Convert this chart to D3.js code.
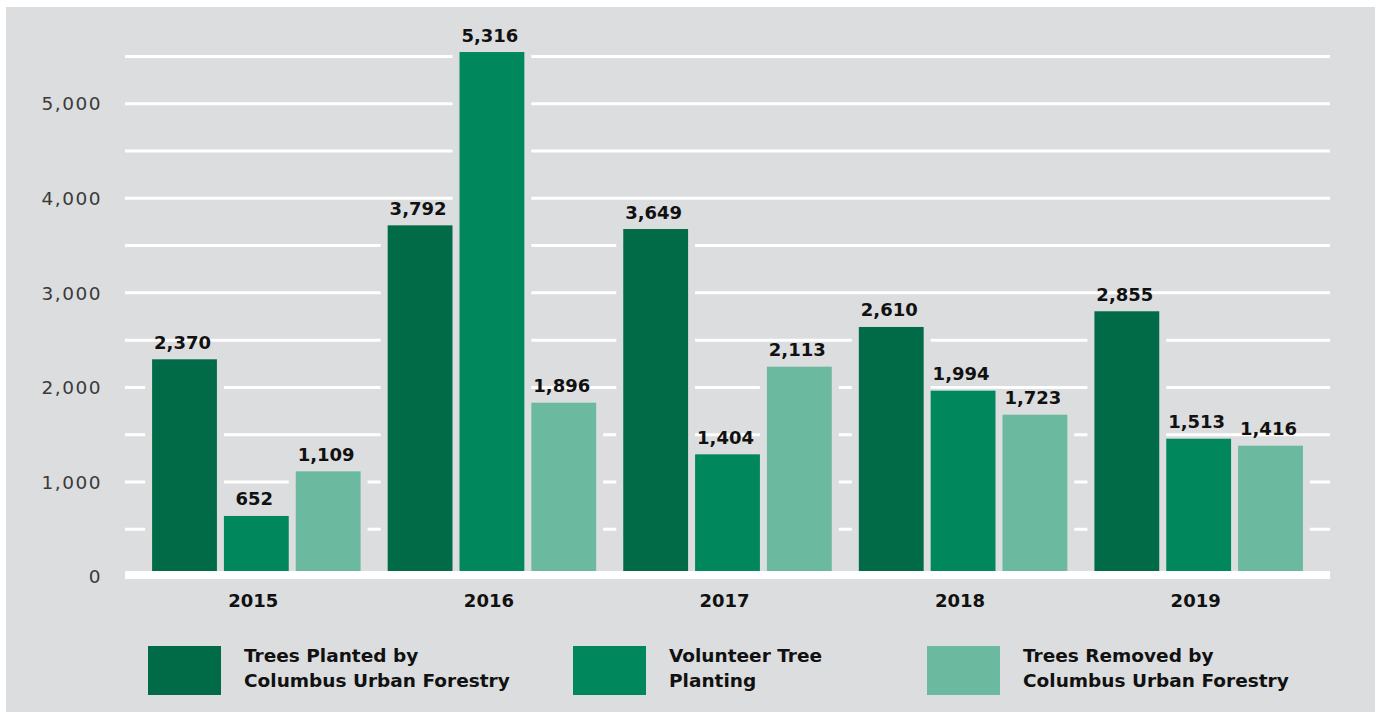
<!DOCTYPE html>
<html>
<head>
<meta charset="utf-8">
<script src="https://cdn.jsdelivr.net/npm/d3@7"></script>
<style>
  html, body { margin: 0; padding: 0; background: #ffffff; }
  svg { display: block; }
</style>
</head>
<body>
<svg id="chart" width="1378" height="712"></svg>
<script>
// ---- data ----
const years = ["2015", "2016", "2017", "2018", "2019"];
const seriesKeys = ["planted", "volunteer", "removed"];
const legendLines = [
  ["Trees Planted by", "Columbus Urban Forestry"],
  ["Volunteer Tree", "Planting"],
  ["Trees Removed by", "Columbus Urban Forestry"]
];
// values printed above the bars
const plantedLabels   = [2370, 3792, 3649, 2610, 2855];
const volunteerLabels = [652, 5316, 1404, 1994, 1513];
const removedLabels   = [1109, 1896, 2113, 1723, 1416];
// bar heights as drawn in the picture (measured against the axis)
const plantedBars   = [2292, 3709, 3670, 2634, 2800];
const volunteerBars = [635, 5542, 1287, 1960, 1452];
const removedBars   = [1107, 1833, 2214, 1706, 1378];
// axis
const yLabelTicks = [0, 1000, 2000, 3000, 4000, 5000];
const yGridTicks  = [500, 1000, 1500, 2000, 2500, 3000, 3500, 4000, 4500, 5000, 5500];
const yMax = 5500;

const colors = ["#016b48", "#00885c", "#6bb99f"];
const bg = "#dcdddf";

// ---- build table ----
const barsBySeries = [plantedBars, volunteerBars, removedBars];
const labelsBySeries = [plantedLabels, volunteerLabels, removedLabels];
const table = years.map((yr, i) => ({
  year: yr,
  items: seriesKeys.map((k, j) => ({ key: k, idx: j, bar: barsBySeries[j][i], label: labelsBySeries[j][i] }))
}));

// ---- layout ----
const svg = d3.select("#chart");
const plotLeft = 125, plotRight = 1330;
const yZero = 576, yTop = 56;

svg.append("rect").attr("x", 6).attr("y", 7).attr("width", 1369).attr("height", 712)
  .attr("fill", bg);

const x0 = d3.scaleBand().domain(years).range([plotLeft, plotRight])
  .paddingInner(0.115).paddingOuter(0.115);
const x1 = d3.scaleBand().domain(seriesKeys).range([0, x0.bandwidth()])
  .paddingInner(0.0975).paddingOuter(0);
const y = d3.scaleLinear().domain([0, yMax]).range([yZero, yTop]);

// gridlines
const grid = svg.append("g").attr("transform", `translate(${plotLeft},0)`)
  .call(d3.axisRight(y).tickValues(yGridTicks).tickSize(plotRight - plotLeft).tickFormat(""));
grid.select(".domain").remove();
grid.selectAll(".tick line").attr("stroke", "#ffffff").attr("stroke-width", 3);

// y labels
const yAxis = svg.append("g").attr("transform", `translate(${plotLeft},0)`)
  .call(d3.axisLeft(y).tickValues(yLabelTicks).tickSize(0).tickPadding(23)
    .tickFormat(d3.format(",")));
yAxis.select(".domain").remove();
yAxis.selectAll(".tick text")
  .attr("fill", "#3a3a3a")
  .style("font-family", "'DejaVu Sans', sans-serif")
  .style("font-size", "18.5px")
  .style("letter-spacing", "1.5px")
  .attr("dy", "0.36em");

// groups
const groups = svg.append("g").selectAll("g.grp").data(table).join("g")
  .attr("class", "grp")
  .attr("transform", d => `translate(${x0(d.year)},0)`);

// halos (interrupt gridlines around the bars)
groups.selectAll("rect.halo").data(d => d.items).join("rect")
  .attr("class", "halo")
  .attr("x", d => x1(d.key) - 7)
  .attr("width", x1.bandwidth() + 14)
  .attr("y", d => y(d.bar) - 2)
  .attr("height", d => yZero - y(d.bar) + 2)
  .attr("fill", bg);

// bars
groups.selectAll("rect.bar").data(d => d.items).join("rect")
  .attr("class", "bar")
  .attr("x", d => x1(d.key))
  .attr("width", x1.bandwidth())
  .attr("y", d => y(d.bar))
  .attr("height", d => yZero - y(d.bar))
  .attr("fill", d => colors[d.idx]);

// value labels
groups.selectAll("text.val").data(d => d.items).join("text")
  .attr("class", "val")
  .attr("x", d => x1(d.key) + x1.bandwidth() / 2 - 2)
  .attr("y", d => y(d.bar) - 10.5)
  .attr("text-anchor", "middle")
  .attr("fill", "#111111")
  .style("font-family", "'DejaVu Sans', sans-serif")
  .style("font-weight", "bold")
  .style("font-size", "18px")
  .text(d => d3.format(",")(d.label));

// baseline
svg.append("line")
  .attr("x1", plotLeft).attr("x2", plotRight)
  .attr("y1", y(0) - 1).attr("y2", y(0) - 1)
  .attr("stroke", "#ffffff").attr("stroke-width", 8);

// x labels
const xAxis = svg.append("g").attr("transform", `translate(0,${yZero})`)
  .call(d3.axisBottom(x0).tickSize(0).tickPadding(0));
xAxis.select(".domain").remove();
xAxis.selectAll(".tick text")
  .attr("y", 30.7).attr("dy", 0)
  .attr("dx", -3)
  .attr("fill", "#111111")
  .style("font-family", "'DejaVu Sans', sans-serif")
  .style("font-weight", "bold")
  .style("font-size", "18px");

// legend
const legendX = [148, 573, 927];
const legend = svg.append("g").selectAll("g.leg").data(legendLines).join("g")
  .attr("class", "leg")
  .attr("transform", (d, i) => `translate(${legendX[i]},646)`);
legend.append("rect")
  .attr("width", 73).attr("height", 49)
  .attr("fill", (d, i) => colors[i]);
legend.each(function(lines) {
  const t = d3.select(this).append("text")
    .attr("x", 96)
    .attr("fill", "#111111")
    .style("font-family", "'DejaVu Sans', sans-serif")
    .style("font-weight", "bold")
    .style("font-size", "18.5px");
  lines.forEach((ln, k) => {
    t.append("tspan").attr("x", 96).attr("y", 16.3 + k * 24.4).text(ln);
  });
});
</script>
</body>
</html>
